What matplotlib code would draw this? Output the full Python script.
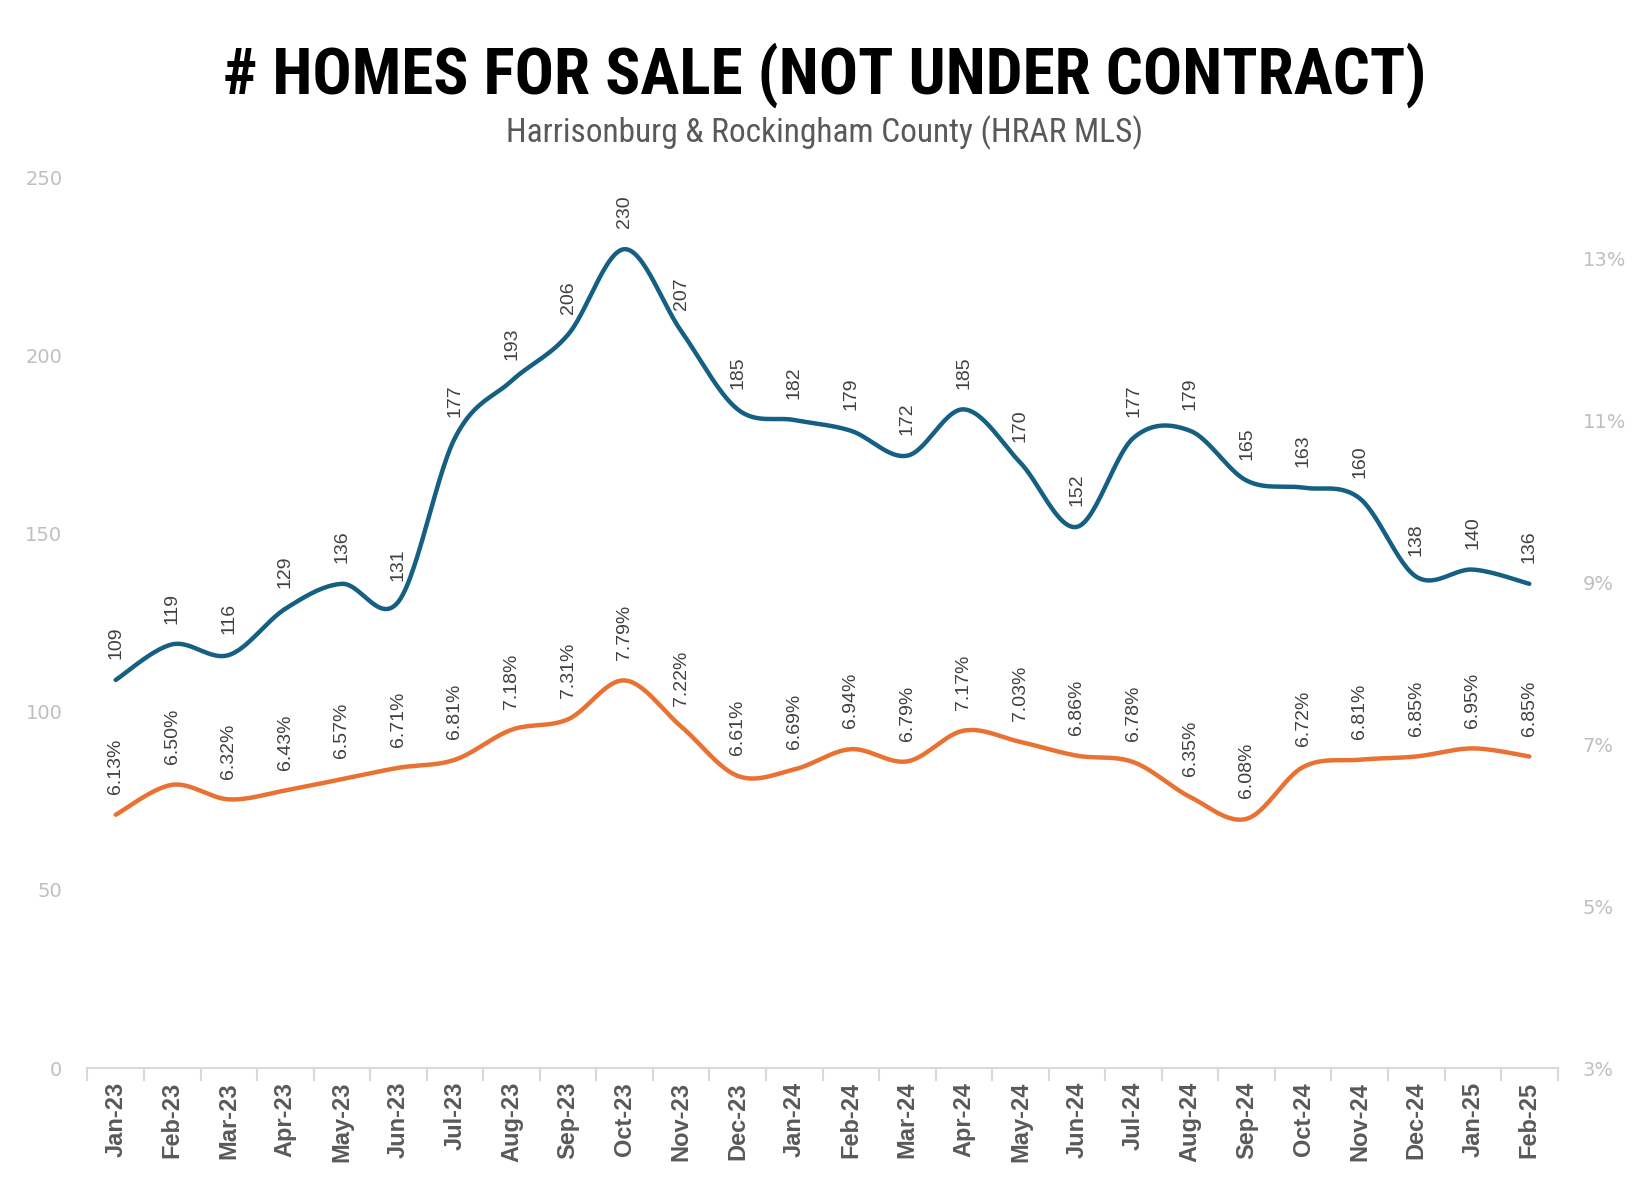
import numpy as np
import matplotlib
matplotlib.use("Agg")
import matplotlib.pyplot as plt
from matplotlib.ticker import FuncFormatter

months = ["Jan-23", "Feb-23", "Mar-23", "Apr-23", "May-23", "Jun-23", "Jul-23",
          "Aug-23", "Sep-23", "Oct-23", "Nov-23", "Dec-23", "Jan-24", "Feb-24",
          "Mar-24", "Apr-24", "May-24", "Jun-24", "Jul-24", "Aug-24", "Sep-24",
          "Oct-24", "Nov-24", "Dec-24", "Jan-25", "Feb-25"]
homes_for_sale = [109, 119, 116, 129, 136, 131, 177, 193, 206, 230, 207, 185, 182,
                  179, 172, 185, 170, 152, 177, 179, 165, 163, 160, 138, 140, 136]
mortgage_rate = [6.13, 6.50, 6.32, 6.43, 6.57, 6.71, 6.81, 7.18, 7.31, 7.79, 7.22,
                 6.61, 6.69, 6.94, 6.79, 7.17, 7.03, 6.86, 6.78, 6.35, 6.08, 6.72,
                 6.81, 6.85, 6.95, 6.85]
left_ticks = [0, 50, 100, 150, 200, 250]
right_ticks = [3, 5, 7, 9, 11, 13]

BLUE = "#156082"
ORANGE = "#E97132"
LABEL = "#404040"
TICK = "#BFBFBF"

NARROW = ["Liberation Sans Narrow", "Roboto Condensed", "Liberation Sans", "DejaVu Sans"]


def smooth(x, y, steps=30):
    # Excel-like smoothed line: Catmull-Rom segments as cubic Bezier curves
    x = np.asarray(x, float)
    y = np.asarray(y, float)
    px = np.concatenate([[x[0]], x, [x[-1]]])
    py = np.concatenate([[y[0]], y, [y[-1]]])
    t = np.linspace(0, 1, steps)[:, None]
    xs, ys = [], []
    for i in range(1, len(px) - 2):
        p0 = np.array([px[i], py[i]])
        p3 = np.array([px[i + 1], py[i + 1]])
        c1 = p0 + (np.array([px[i + 1], py[i + 1]]) - np.array([px[i - 1], py[i - 1]])) / 6
        c2 = p3 - (np.array([px[i + 2], py[i + 2]]) - np.array([px[i], py[i]])) / 6
        pts = ((1 - t) ** 3) * p0 + 3 * ((1 - t) ** 2) * t * c1 + 3 * (1 - t) * t ** 2 * c2 + t ** 3 * p3
        xs.append(pts[:, 0])
        ys.append(pts[:, 1])
    return np.concatenate(xs), np.concatenate(ys)


fig = plt.figure(figsize=(16.5, 12), dpi=100)
ax = fig.add_axes([0.053, 0.11, 0.891, 0.7417])
ax2 = ax.twinx()

x = np.arange(len(months))

sx, sy = smooth(x, homes_for_sale)
ax.plot(sx, sy, color=BLUE, lw=3.2, solid_capstyle="round", zorder=3)
sx, sy = smooth(x, mortgage_rate)
ax2.plot(sx, sy, color=ORANGE, lw=3.2, solid_capstyle="round", zorder=3)

for xi, v in zip(x, homes_for_sale):
    ax.annotate(str(v), (xi, v), xytext=(0, 15), textcoords="offset points",
                rotation=90, ha="center", va="bottom", fontsize=14,
                color=LABEL, family=["Liberation Sans", "DejaVu Sans"])
for xi, v in zip(x, mortgage_rate):
    ax2.annotate(f"{v:.2f}%", (xi, v), xytext=(0, 15), textcoords="offset points",
                 rotation=90, ha="center", va="bottom", fontsize=14,
                 color=LABEL, family=["Liberation Sans", "DejaVu Sans"])

ax.set_xlim(-0.5, len(months) - 0.5)
ax.set_ylim(0, 250)
ax2.set_ylim(3, 14)

ax.set_yticks(left_ticks)
ax2.set_yticks(right_ticks)
ax2.yaxis.set_major_formatter(FuncFormatter(lambda v, p: f"{v:.0f}%"))

ax.set_xticks(np.arange(-0.5, len(months), 1.0))
ax.set_xticklabels([])
ax.set_xticks(x, minor=True)
ax.set_xticklabels(months, minor=True, rotation=90, fontsize=17, fontweight="bold",
                   color="#595959", family=["Liberation Sans", "DejaVu Sans"])
ax.tick_params(axis="x", which="major", length=9, width=1.5, color="#D9D9D9")
ax.tick_params(axis="x", which="minor", length=0, pad=10)

for a in (ax, ax2):
    for s in ("top", "left", "right"):
        a.spines[s].set_visible(False)
ax.spines["bottom"].set_color("#D9D9D9")
ax.spines["bottom"].set_linewidth(1.5)
ax2.spines["bottom"].set_visible(False)

ax.tick_params(axis="y", length=0, labelsize=14, labelcolor=TICK, pad=18)
ax2.tick_params(axis="y", length=0, labelsize=14, labelcolor=TICK, pad=18)
for lab in ax.get_yticklabels() + ax2.get_yticklabels():
    lab.set_family(["DejaVu Sans"])

fig.text(0.5, 0.937, "# HOMES FOR SALE (NOT UNDER CONTRACT)", ha="center", va="center",
         fontsize=47, fontweight="bold", color="black", family=NARROW)
fig.text(0.5, 0.889, "Harrisonburg & Rockingham County (HRAR MLS)", ha="center", va="center",
         fontsize=24, color="#595959", family=NARROW)

fig.savefig("out.png", dpi=100, facecolor="white")
